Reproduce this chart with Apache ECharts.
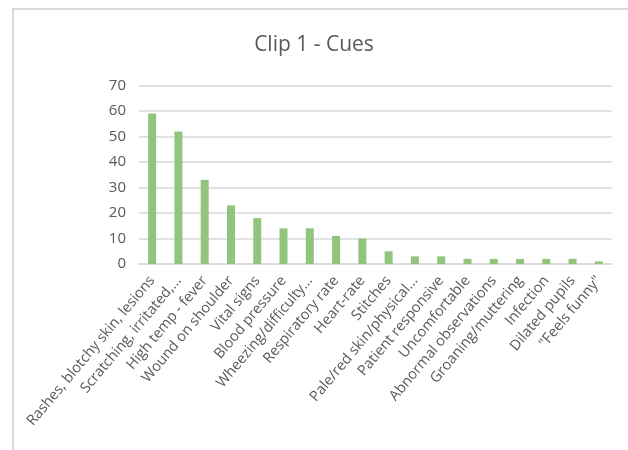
<!DOCTYPE html>
<html>
<head>
<meta charset="utf-8">
<script src="https://cdn.jsdelivr.net/npm/echarts@6/dist/echarts.min.js"></script>
<style>
html,body{margin:0;padding:0;background:#fff;}
#frame{position:absolute;left:12px;top:8px;width:640px;height:460px;border:2px solid #d9d9d9;box-sizing:border-box;}
#chart{position:absolute;left:0;top:0;width:628px;height:450px;}
</style>
</head>
<body>
<div id="frame"></div>
<div id="chart"></div>
<script>
const categories = ["Rashes, blotchy skin, lesions","Scratching, irritated,...","High temp - fever","Wound on shoulder","Vital signs","Blood pressure","Wheezing/difficulty...","Respiratory rate","Heart-rate","Stitches","Pale/red skin/physical...","Patient responsive","Uncomfortable","Abnormal observations","Groaning/muttering","Infection","Dilated pupils","\"Feels funny\""];
const values = [59,52,33,23,18,14,14,11,10,5,3,3,2,2,2,2,2,1];
const yTicks = {min:0, max:70, interval:10};

const chart = echarts.init(document.getElementById('chart'), null, {renderer:'canvas'});
chart.setOption({
  animation:false,
  backgroundColor:'transparent',
  title:{text:'Clip 1 - Cues', left:'center', top:30, textStyle:{fontFamily:'Open Sans', fontSize:21, fontWeight:'normal', color:'#595959'}},
  grid:{left:139, right:16, top:85.5, bottom:186},
  xAxis:{type:'category', data:categories,
    axisLine:{lineStyle:{color:'#d9d9d9', width:1.5}},
    axisTick:{show:false},
    axisLabel:{rotate:50, interval:0, color:'#595959', fontFamily:'Open Sans', fontSize:14.5, margin:14}},
  yAxis:{type:'value', min:yTicks.min, max:yTicks.max, interval:yTicks.interval,
    axisLine:{show:false}, axisTick:{show:false},
    axisLabel:{color:'#595959', fontFamily:'Open Sans', fontSize:15, margin:13}},
  series:[{type:'bar', data:values, barWidth:8, itemStyle:{color:'#93c47d'}}]
});
chart.setOption({yAxis:{splitLine:{lineStyle:{color:'#d9d9d9', width:1.5}}}});
</script>
</body>
</html>
